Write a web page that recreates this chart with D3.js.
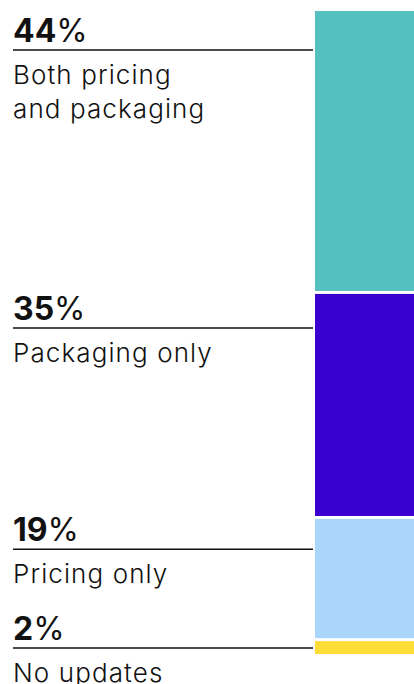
<!DOCTYPE html>
<html>
<head>
<meta charset="utf-8">
<script src="https://cdn.jsdelivr.net/npm/d3@7"></script>
<style>
  html, body { margin: 0; padding: 0; background: #fff; }
  svg { display: block; font-family: Inter, "Noto Sans", sans-serif; }
  .pct-num { font-weight: 700; }
  .pct-sign { font-weight: 400; }
  .label { font-weight: 300; letter-spacing: 1.1px; }
</style>
</head>
<body>
<div id="wrapper"></div>
<script>
// 1. Data

const categories = ["Both pricing|and packaging", "Packaging only", "Pricing only", "No updates"];
const shares = [44, 35, 19, 2];
const colors = ["#54c0c0", "#3a00d0", "#abd6fc", "#fedd36"];

// 2. Dimensions

const width = 414;
const height = 684;
const barX = 315;
const barTop = 11;
const barBottom = 654;
const gap = 3;

let cum = 0;
const dataset = categories.map((c, i) => {
  const d = { label: c.split("|"), value: shares[i], start: cum, color: colors[i] };
  cum += shares[i];
  d.end = cum;
  return d;
});

// 3. Canvas

const svg = d3.select("#wrapper")
  .append("svg")
  .attr("width", width)
  .attr("height", height);

// 4. Scales

const yScale = d3.scaleLinear()
  .domain([0, 100])
  .range([barTop, barBottom]);

// labels follow the bar but slightly compressed, last one clamped inside the frame
const labelScale = d3.scaleLinear()
  .domain([0, 100])
  .range([50, 682]);

// 5. Bar

svg.append("g")
  .selectAll("rect")
  .data(dataset)
  .join("rect")
  .attr("x", barX)
  .attr("y", d => yScale(d.start))
  .attr("width", width - barX)
  .attr("height", (d, i) => yScale(d.end) - yScale(d.start) - (i < dataset.length - 1 ? gap : 0))
  .attr("fill", d => d.color);

// 6. Labels

const labels = svg.append("g")
  .selectAll("g")
  .data(dataset)
  .join("g")
  .attr("transform", d => `translate(13, ${Math.min(labelScale(d.start), height - 36)})`);

labels.append("line")
  .attr("x1", 0)
  .attr("x2", 300)
  .attr("stroke", "#111")
  .attr("stroke-width", 1.5);

const pct = labels.append("text")
  .attr("y", -8)
  .style("font-size", "32px")
  .attr("fill", "#111");
pct.append("tspan").attr("class", "pct-num").text(d => d.value);
pct.append("tspan").attr("class", "pct-sign").text("%");

labels.append("text")
  .attr("class", "label")
  .attr("fill", "#111")
  .style("font-size", "26px")
  .selectAll("tspan")
  .data(d => d.label)
  .join("tspan")
  .attr("x", 0)
  .attr("y", (d, i) => 34 + i * 34)
  .text(d => d);
</script>
</body>
</html>
